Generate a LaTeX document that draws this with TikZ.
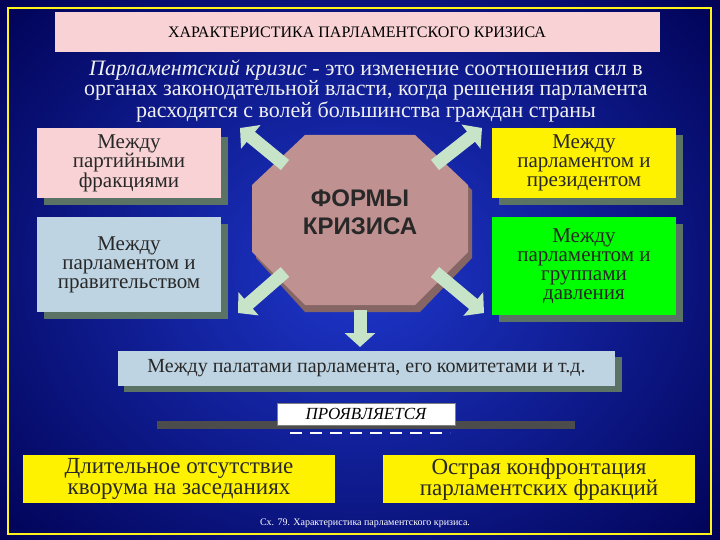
\documentclass[tikz,border=0pt]{standalone}
\usepackage{fontspec}
\setmainfont{Liberation Serif}
\newfontfamily\hsans{Liberation Sans}
\usetikzlibrary{arrows.meta}
\definecolor{shad}{RGB}{90,115,100}
\definecolor{arr}{RGB}{200,228,200}
\definecolor{pinkb}{RGB}{248,210,212}
\definecolor{blueb}{RGB}{190,212,226}
\definecolor{octc}{RGB}{192,145,145}
\definecolor{txt}{RGB}{40,40,40}
\tikzset{
 box/.style={draw=none,minimum width=184pt,align=center,text=txt,font=\fontsize{21}{19}\selectfont,inner sep=0pt},
 blk/.style={draw=arr,line width=13pt,-{Triangle[length=14pt,width=30pt]}},
}
\begin{document}
\begin{tikzpicture}[x=1pt,y=-1pt]
\useasboundingbox (0,0) rectangle (720,540);
\shade[shading=radial,inner color={rgb,255:red,30;green,55;blue,205},outer color={rgb,255:red,0;green,0;blue,80}] (-150,-150) rectangle (870,690);
\draw[yellow!90!white,line width=1.5pt] (8,8) rectangle (711,534);
% title
\node[fill=pinkb,minimum width=605pt,minimum height=40pt,font=\fontsize{16}{16}\selectfont,text=black] (title) at (357,32) {ХАРАКТЕРИСТИКА ПАРЛАМЕНТСКОГО КРИЗИСА};
\node[text=white!88!gray,align=center,font=\fontsize{22}{20}\selectfont] (def) at (366,91) {\textit{Парламентский кризис} - это изменение соотношения сил в\\органах законодательной власти, когда решения парламента\\расходятся с волей большинства граждан страны};
% shadows
\fill[shad] (44,137) rectangle (228,205);
\fill[shad] (44,224) rectangle (228,319);
\fill[shad] (499,135) rectangle (683,205);
\fill[shad] (499,224) rectangle (683,322);
\fill[shad] (124,357) rectangle (622,392);
% octagon
\fill[octc!70!black] (305,142)--(420,142)--(472,190)--(472,258)--(420,312)--(305,312)--(256,258)--(256,190)--cycle;
\fill[octc] (305,135)--(415,135)--(468,185)--(468,252)--(415,305)--(305,305)--(252,252)--(252,185)--cycle;
\node[font=\hsans\bfseries\fontsize{24}{28}\selectfont,text=txt,align=center] (oct) at (360,212) {ФОРМЫ\\КРИЗИСА};
% boxes
\node[box,fill=pinkb,minimum height=70pt] (b1) at (129,163) {Между\\партийными\\фракциями};
\node[box,fill=blueb,minimum height=95pt] (b2) at (129,264.5) {Между\\парламентом и\\правительством};
\node[box,fill=yellow,minimum height=70pt] (b3) at (584,163) {Между\\парламентом и\\президентом};
\node[box,fill=green,minimum height=98pt] (b4) at (584,266) {Между\\парламентом и\\группами\\давления};
\node[fill=blueb,minimum width=497pt,minimum height=35pt,text=txt,font=\fontsize{20}{20}\selectfont,inner sep=0pt] (b5) at (366.5,368) {Между палатами парламента, его комитетами и т.д.};
% arrows
\coordinate (a1s) at (285,165); \coordinate (a1e) at (240,128);
\coordinate (a2s) at (435,165); \coordinate (a2e) at (482,128);
\coordinate (a3s) at (285,272); \coordinate (a3e) at (238,313);
\coordinate (a4s) at (435,272); \coordinate (a4e) at (484,313);
\coordinate (a5s) at (360,310); \coordinate (a5e) at (360,347);
\draw[blk] (a1s)--(a1e);
\draw[blk] (a2s)--(a2e);
\draw[blk] (a3s)--(a3e);
\draw[blk] (a4s)--(a4e);
\draw[blk] (a5s)--(a5e);
% manifests
\fill[gray!60!black] (157,421) rectangle (575,429);
\draw[white,line width=1.5pt,dash pattern=on 12pt off 8pt] (290,433)--(450,433);
\node[fill=white,draw=gray,minimum width=178pt,minimum height=22pt,inner sep=0pt,font=\itshape\fontsize{17}{17}\selectfont,text=black] (pr) at (366,414) {ПРОЯВЛЯЕТСЯ};
\node[fill=yellow,minimum width=312pt,minimum height=48pt,inner sep=0pt,align=center,text=txt,font=\fontsize{23}{21}\selectfont] (y1) at (179,479) {Длительное отсутствие\\кворума на заседаниях};
\node[fill=yellow,minimum width=312pt,minimum height=48pt,inner sep=0pt,align=center,text=txt,font=\fontsize{23}{21}\selectfont] (y2) at (539,479) {Острая конфронтация\\парламентских фракций};
\node[text=white,font=\fontsize{10}{10}\selectfont] (cap) at (365,523) {Сх. 79. Характеристика парламентского кризиса.};
\end{tikzpicture}
\end{document}
